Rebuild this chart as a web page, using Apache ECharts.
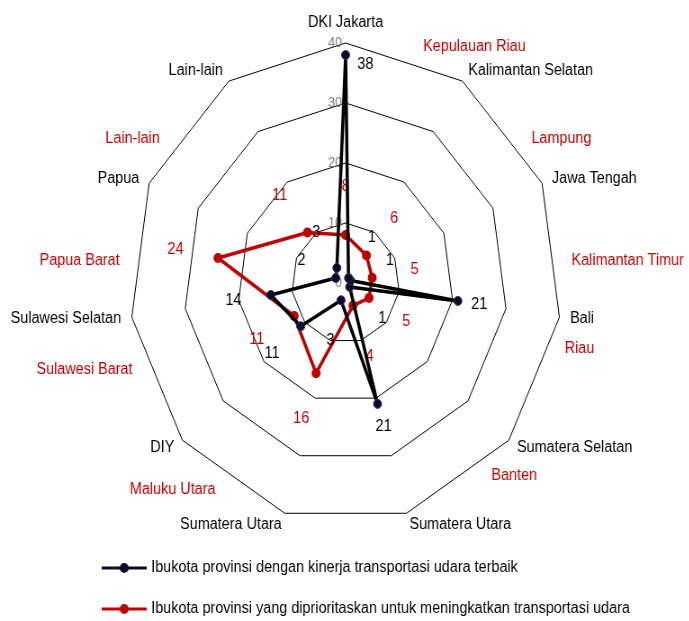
<!DOCTYPE html>
<html>
<head>
<meta charset="utf-8">
<title>Radar transportasi udara</title>
<script src="https://cdn.jsdelivr.net/npm/echarts@6/dist/echarts.min.js"></script>
<style>
    html, body { margin: 0; padding: 0; background: #fff; overflow: hidden; }
    /* plot asli sedikit lonjong: digambar lebih lebar lalu dipipihkan */
    #radar { width: 766px; height: 621px; transform: scaleX(0.9); transform-origin: 0 0; }
</style>
</head>
<body>
<div id="radar"></div>
<script>
// data, urut searah jarum jam mulai dari atas
var namaTerbaik = ['DKI Jakarta', 'Kalimantan Selatan', 'Jawa Tengah', 'Bali', 'Sumatera Selatan',
    'Sumatera Utara', 'Sumatera Utara', 'DIY', 'Sulawesi Selatan', 'Papua', 'Lain-lain'];
var nilaiTerbaik = [38, 1, 1, 21, 1, 21, 3, 11, 14, 2, 3];

var namaPrioritas = ['Kepulauan Riau', 'Lampung', 'Kalimantan Timur', 'Riau', 'Banten',
    'Maluku Utara', 'Sulawesi Barat', 'Papua Barat', 'Lain-lain'];
var nilaiPrioritas = [8, 6, 5, 5, 4, 16, 11, 24, 11];

var skalaMax = 40;
var namaSeri = [
    'Ibukota provinsi dengan kinerja transportasi udara terbaik',
    'Ibukota provinsi yang diprioritaskan untuk meningkatkan transportasi udara'
];

// letak nama merah (derajat searah jarum jam dari atas), seperti kotak teks di gambar asli
var sudutNamaPrioritas = [20, 55, 85, 105, 140, 215, 250, 275, 305];

var FONT = "'Liberation Sans', Arial, sans-serif";
var MERAH = '#c00000';
var PUSAT = [384, 283];
var JARI = 240;
// ikon legenda: garis dengan titik di tengah
var IKON = 'path://M0,3.5H50V6.5H0Z M20,5A5,5,0,1,1,30,5A5,5,0,1,1,20,5Z';

// echarts menggambar radar berlawanan arah jarum jam
function balik(arr) {
    return [arr[0]].concat(arr.slice(1).reverse());
}

// posisi label angka (dalam satuan nilai)
function posLabelTerbaik(v) {
    return v >= 20 ? v + 4 : Math.max(v + 7, 9);
}
function posLabelPrioritas(v) {
    return Math.max(v + 8, 13);
}

function initRadar() {
    var terbaik = balik(nilaiTerbaik);
    var prioritas = balik(nilaiPrioritas);

    var indikatorTerbaik = balik(namaTerbaik).map(function (n, i) {
        var ind = {name: n, min: 0, max: skalaMax};
        if (i === 0) {
            ind.axisLabel = {show: true, color: '#808080', fontSize: 14, fontFamily: FONT, margin: 4};
        }
        return ind;
    });
    var indikatorPrioritas = namaPrioritas.map(function () {
        return {name: '', min: 0, max: skalaMax};
    });
    var slotNama = [];
    for (var i = 0; i < 72; i++) {
        slotNama.push({name: '', min: 0, max: skalaMax});
    }
    sudutNamaPrioritas.forEach(function (a, i) {
        slotNama[(72 - a / 5) % 72].name = namaPrioritas[i];
    });

    var tanpaGaris = {
        center: PUSAT,
        radius: JARI,
        startAngle: 90,
        shape: 'polygon',
        axisLine: {show: false},
        axisTick: {show: false},
        splitLine: {show: false},
        splitArea: {show: false}
    };

    echarts.init(document.getElementById('radar')).setOption({
        animation: false,
        textStyle: {fontFamily: FONT},
        legend: {
            orient: 'vertical',
            left: 113,
            top: 560,
            padding: 0,
            itemWidth: 50,
            itemHeight: 10,
            itemGap: 25,
            itemStyle: {borderWidth: 0},
            textStyle: {fontSize: 16, color: '#000', fontFamily: FONT},
            data: [
                {name: namaSeri[0], icon: IKON},
                {name: namaSeri[1], icon: IKON}
            ]
        },
        radar: [
            {
                center: PUSAT,
                radius: JARI,
                startAngle: 90,
                shape: 'polygon',
                splitNumber: 4,
                nameGap: 12,
                axisName: {color: '#000', fontSize: 16, fontFamily: FONT},
                axisLine: {show: false},
                axisTick: {show: false},
                splitLine: {lineStyle: {color: '#000', width: 1}},
                splitArea: {show: false},
                indicator: indikatorTerbaik
            },
            Object.assign({indicator: indikatorPrioritas, axisName: {show: false}}, tanpaGaris),
            Object.assign({
                indicator: slotNama,
                nameGap: 12,
                axisName: {color: MERAH, fontSize: 16, fontFamily: FONT}
            }, tanpaGaris)
        ],
        series: [
            {
                name: namaSeri[1],
                type: 'radar',
                radarIndex: 1,
                z: 2,
                symbol: 'circle',
                symbolSize: 10,
                lineStyle: {color: MERAH, width: 3.5},
                itemStyle: {color: MERAH},
                data: [{value: prioritas, name: namaSeri[1]}]
            },
            {
                name: namaSeri[0],
                type: 'radar',
                radarIndex: 0,
                z: 3,
                symbol: 'circle',
                symbolSize: 9,
                lineStyle: {color: '#000', width: 3.5},
                itemStyle: {color: '#0d0b26', borderColor: '#3b2f63', borderWidth: 1},
                label: {
                    show: true,
                    position: 'right',
                    distance: 8,
                    offset: [0, 10],
                    color: '#000',
                    fontSize: 16,
                    fontFamily: FONT,
                    formatter: function (p) {
                        return p.value >= 30 ? p.value : '';
                    }
                },
                data: [{value: terbaik, name: namaSeri[0]}]
            },
            // label angka, diletakkan sedikit di luar titik
            {
                type: 'radar',
                radarIndex: 0,
                silent: true,
                symbol: 'circle',
                symbolSize: 0.1,
                lineStyle: {width: 0, opacity: 0},
                label: {
                    show: true,
                    position: 'inside',
                    color: '#000',
                    fontSize: 16,
                    fontFamily: FONT,
                    formatter: function (p) {
                        var v = terbaik[p.dimensionIndex];
                        return v >= 30 ? '' : String(v);
                    }
                },
                data: [{value: terbaik.map(posLabelTerbaik)}]
            },
            {
                type: 'radar',
                radarIndex: 1,
                silent: true,
                symbol: 'circle',
                symbolSize: 0.1,
                lineStyle: {width: 0, opacity: 0},
                label: {
                    show: true,
                    position: 'inside',
                    color: MERAH,
                    fontSize: 16,
                    fontFamily: FONT,
                    formatter: function (p) {
                        return String(prioritas[p.dimensionIndex]);
                    }
                },
                data: [{value: prioritas.map(posLabelPrioritas)}]
            }
        ]
    });
}

initRadar();
</script>
</body>
</html>
